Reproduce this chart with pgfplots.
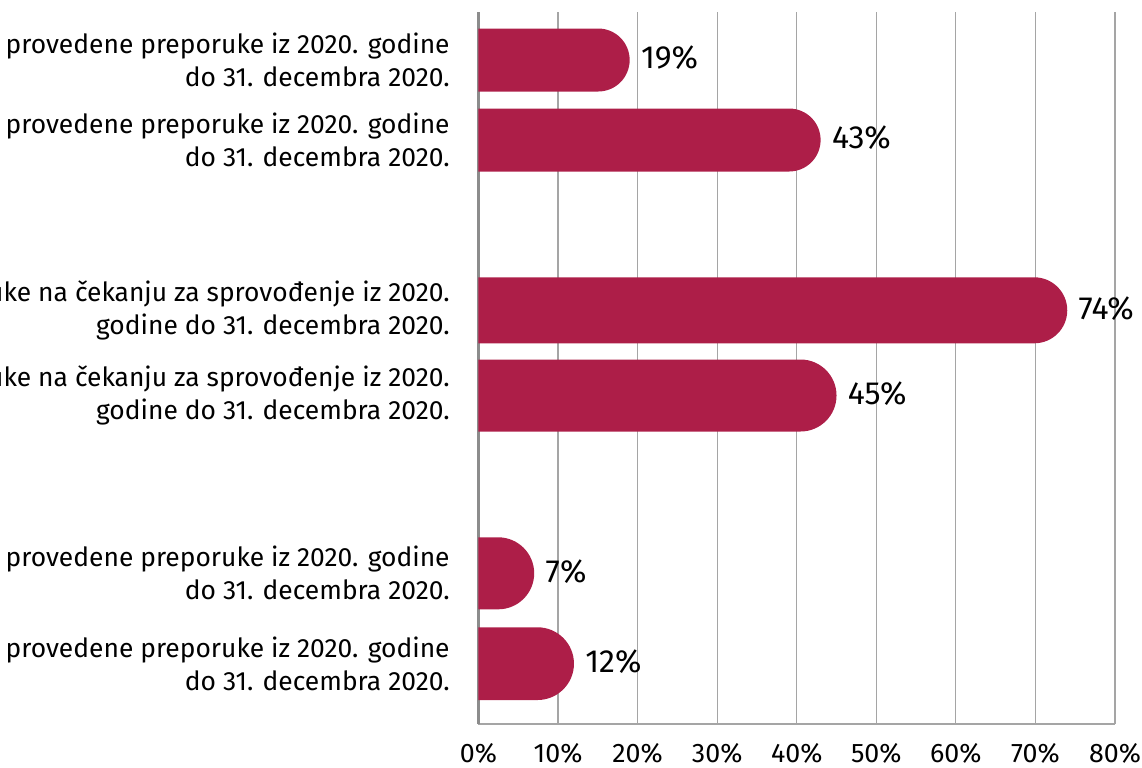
\documentclass[border=0pt]{standalone}
\usepackage{pgfplots}
\pgfplotsset{compat=1.18}
\usepackage{fontspec}
\setmainfont{Fira Sans}
\definecolor{barc}{RGB}{173,30,72}
\definecolor{gridc}{RGB}{165,165,165}
\definecolor{axc}{RGB}{140,140,140}
\begin{document}
\begin{tikzpicture}
\path[use as bounding box] (0pt,0pt) rectangle (571pt,383.5pt);
\clip (0pt,0pt) rectangle (571pt,383.5pt);
\begin{axis}[
  at={(239.25pt,21.5pt)}, anchor=south west,
  scale only axis, width=318.25pt, height=356pt,
  xmin=0, xmax=80,
  ymin=12, ymax=724, y dir=reverse,
  axis x line*=bottom, axis y line*=left,
  x axis line style={-, draw=gridc, line width=1pt},
  y axis line style={-, draw=axc, line width=1.6pt},
  xmajorgrids, major grid style={draw=gridc, line width=0.6pt},
  major tick length=0pt,
  xtick={0,10,...,80},
  xticklabels={0\%,10\%,20\%,30\%,40\%,50\%,60\%,70\%,80\%},
  xticklabel style={font=\fontsize{13.4}{16}\selectfont, inner sep=0pt, anchor=north, yshift=-9.5pt},
  ytick={60,140,310.3,395.5,573.3,663.7},
  yticklabels={
    {provedene preporuke iz 2020. godine\\do 31. decembra 2020.},
    {provedene preporuke iz 2020. godine\\do 31. decembra 2020.},
    {Preporuke na čekanju za sprovođenje iz 2020.\\godine do 31. decembra 2020.},
    {Preporuke na čekanju za sprovođenje iz 2020.\\godine do 31. decembra 2020.},
    {provedene preporuke iz 2020. godine\\do 31. decembra 2020.},
    {provedene preporuke iz 2020. godine\\do 31. decembra 2020.}},
  yticklabel style={font=\fontsize{13.2}{16.5}\selectfont, align=right, inner sep=0pt, anchor=east, xshift=-14.25pt},
]
% bars: value at the rounded right end; the left part runs past the axis and is clipped
\addplot[fill=barc, draw=none, rounded corners=15.75pt] coordinates {(-20,28.5) (19,28.5) (19,91.5) (-20,91.5)};
\addplot[fill=barc, draw=none, rounded corners=15.75pt] coordinates {(-20,108.5) (43,108.5) (43,171.5) (-20,171.5)};
\addplot[fill=barc, draw=none, rounded corners=16.5pt] coordinates {(-20,277.3) (74,277.3) (74,343.3) (-20,343.3)};
\addplot[fill=barc, draw=none, rounded corners=18pt] coordinates {(-20,359.5) (45,359.5) (45,431.5) (-20,431.5)};
\addplot[fill=barc, draw=none, rounded corners=18pt] coordinates {(-20,537.3) (7,537.3) (7,609.3) (-20,609.3)};
\addplot[fill=barc, draw=none, rounded corners=18.2pt] coordinates {(-20,627.3) (12,627.3) (12,700) (-20,700)};
\addplot[draw=none, mark=none, nodes near coords, point meta=explicit symbolic,
  nodes near coords style={anchor=west, inner sep=0pt, xshift=5.5pt, yshift=1pt, font=\fontsize{16}{19}\selectfont, text=black}]
  coordinates {(19,60) [19\%] (43,140) [43\%] (74,310.3) [74\%] (45,395.5) [45\%] (7,573.3) [7\%] (12,663.7) [12\%]};
\end{axis}
\end{tikzpicture}
\end{document}
